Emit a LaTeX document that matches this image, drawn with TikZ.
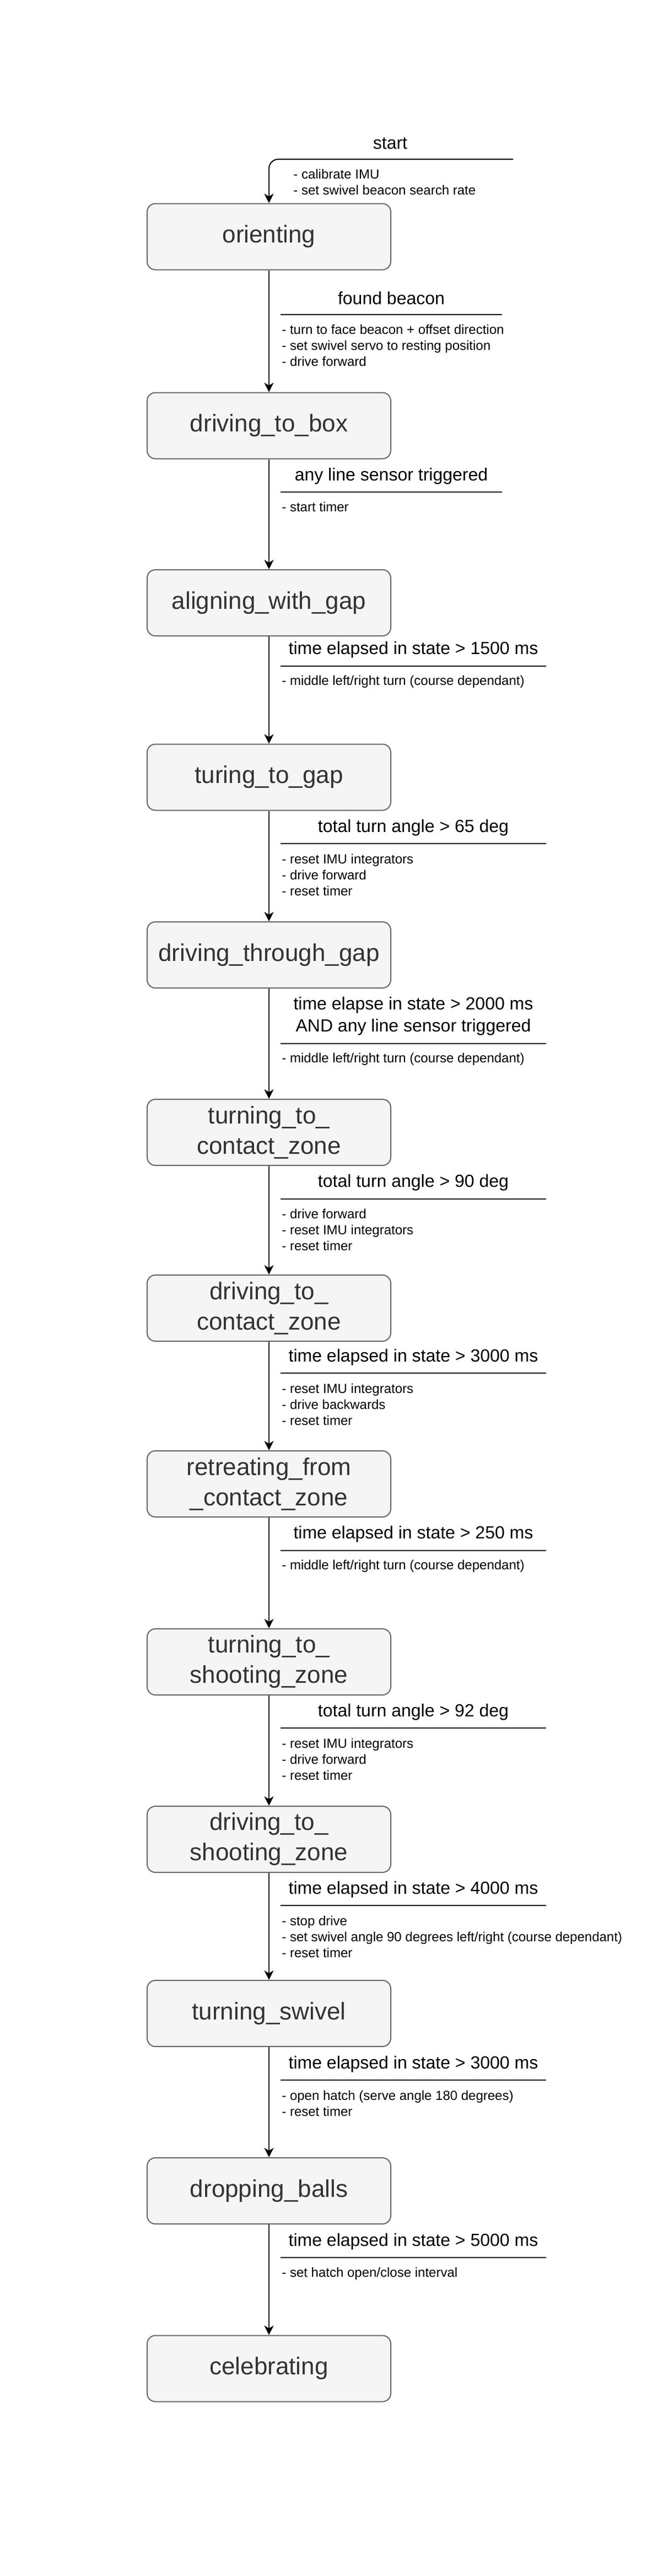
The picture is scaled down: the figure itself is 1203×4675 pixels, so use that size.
\documentclass[tikz,border=0pt]{standalone}
\usepackage{fontspec}
\setmainfont{Liberation Sans}
\usetikzlibrary{arrows.meta}
\definecolor{boxfill}{HTML}{F5F5F5}
\definecolor{boxline}{HTML}{666666}
\definecolor{boxtext}{HTML}{333333}
\newcommand\actlines[1]{\vtop{\halign{##\hfil\cr#1\crcr}}}
\tikzset{
  state/.style={draw=boxline, fill=boxfill, line width=1pt, rounded corners=7.5pt,
    minimum width=221pt, minimum height=60pt, text=boxtext,
    font=\fontsize{22}{27.5}\selectfont, align=center, inner sep=0pt},
  cond/.style={font=\fontsize{16}{20}\selectfont, align=center, inner sep=0pt},
  act/.style={font=\fontsize{12}{14.5}\selectfont, inner sep=0pt, anchor=base west},
  trans/.style={line width=1pt, -{Stealth[length=8.5pt, width=8.5pt, inset=2.5pt]}},
  bar/.style={line width=1pt},
}
\begin{document}
\begin{tikzpicture}[x=0.5pt, y=-0.5pt]
\fill[white] (0,0) rectangle (1203,4675);
\useasboundingbox (0,0) rectangle (1203,4675);

% states
\node[state] (orienting) at (488,429.5) {orienting};
\node[state] (drivebox) at (488,772.5) {driving\_to\_box};
\node[state] (align) at (488,1094) {aligning\_with\_gap};
\node[state] (turgap) at (488,1410.5) {turing\_to\_gap};
\node[state] (drivegap) at (488,1733) {driving\_through\_gap};
\node[state] (turncontact) at (488,2055) {turning\_to\_\\contact\_zone};
\node[state] (drivecontact) at (488,2374) {driving\_to\_\\contact\_zone};
\node[state] (retreat) at (488,2693) {retreating\_from\\\_contact\_zone};
\node[state] (turnshoot) at (488,3016) {turning\_to\_\\shooting\_zone};
\node[state] (driveshoot) at (488,3338) {driving\_to\_\\shooting\_zone};
\node[state] (swivel) at (488,3654) {turning\_swivel};
\node[state] (drop) at (488,3976) {dropping\_balls};
\node[state] (celebrate) at (488,4298.5) {celebrating};

% start
\coordinate (s0) at (931,289);
\draw[trans, rounded corners=8.5pt] (s0) -| (orienting.north);
\node[cond] (c0) at (708,260) {start};
\node[act] (a0) at (532,324) {\actlines{- calibrate IMU\cr - set swivel beacon search rate}};

% transitions
\draw[trans] (orienting) -- (drivebox);
\draw[trans] (drivebox) -- (align);
\draw[trans] (align) -- (turgap);
\draw[trans] (turgap) -- (drivegap);
\draw[trans] (drivegap) -- (turncontact);
\draw[trans] (turncontact) -- (drivecontact);
\draw[trans] (drivecontact) -- (retreat);
\draw[trans] (retreat) -- (turnshoot);
\draw[trans] (turnshoot) -- (driveshoot);
\draw[trans] (driveshoot) -- (swivel);
\draw[trans] (swivel) -- (drop);
\draw[trans] (drop) -- (celebrate);

% 1
\node[cond] (c1) at (710,541) {found beacon};
\draw[bar] (509,571) -- (911,571);
\node[act] (a1) at (511,606) {\actlines{- turn to face beacon + offset direction\cr - set swivel servo to resting position\cr - drive forward}};
% 2
\node[cond] (c2) at (710,864) {any line sensor triggered};
\draw[bar] (509,893) -- (911,893);
\node[act] (a2) at (511,928) {\actlines{- start timer}};
% 3
\node[cond] (c3) at (750,1179) {time elapsed in state > 1500 ms};
\draw[bar] (509,1209) -- (991,1209);
\node[act] (a3) at (511,1243) {\actlines{- middle left/right turn (course dependant)}};
% 4
\node[cond] (c4) at (750,1502) {total turn angle > 65 deg};
\draw[bar] (509,1531) -- (991,1531);
\node[act] (a4) at (511,1567) {\actlines{- reset IMU integrators\cr - drive forward\cr - reset timer}};
% 5
\node[cond] (c5) at (750,1844) {time elapse in state > 2000 ms\\AND any line sensor triggered};
\draw[bar] (509,1894) -- (991,1894);
\node[act] (a5) at (511,1928) {\actlines{- middle left/right turn (course dependant)}};
% 6
\node[cond] (c6) at (750,2146) {total turn angle > 90 deg};
\draw[bar] (509,2176) -- (991,2176);
\node[act] (a6) at (511,2211) {\actlines{- drive forward\cr - reset IMU integrators\cr - reset timer}};
% 7
\node[cond] (c7) at (750,2463) {time elapsed in state > 3000 ms};
\draw[bar] (509,2492) -- (991,2492);
\node[act] (a7) at (511,2528) {\actlines{- reset IMU integrators\cr - drive backwards\cr - reset timer}};
% 8
\node[cond] (c8) at (750,2784) {time elapsed in state > 250 ms};
\draw[bar] (509,2814) -- (991,2814);
\node[act] (a8) at (511,2848) {\actlines{- middle left/right turn (course dependant)}};
% 9
\node[cond] (c9) at (750,3107) {total turn angle > 92 deg};
\draw[bar] (509,3136) -- (991,3136);
\node[act] (a9) at (511,3172) {\actlines{- reset IMU integrators\cr - drive forward\cr - reset timer}};
% 10
\node[cond] (c10) at (750,3429) {time elapsed in state > 4000 ms};
\draw[bar] (509,3458) -- (991,3458);
\node[act] (a10) at (511,3494) {\actlines{- stop drive\cr - set swivel angle 90 degrees left/right (course dependant)\cr - reset timer}};
% 11
\node[cond] (c11) at (750,3746) {time elapsed in state > 3000 ms};
\draw[bar] (509,3775) -- (991,3775);
\node[act] (a11) at (511,3811) {\actlines{- open hatch (serve angle 180 degrees)\cr - reset timer}};
% 12
\node[cond] (c12) at (750,4068) {time elapsed in state > 5000 ms};
\draw[bar] (509,4097) -- (991,4097);
\node[act] (a12) at (511,4132) {\actlines{- set hatch open/close interval}};
\end{tikzpicture}
\end{document}
